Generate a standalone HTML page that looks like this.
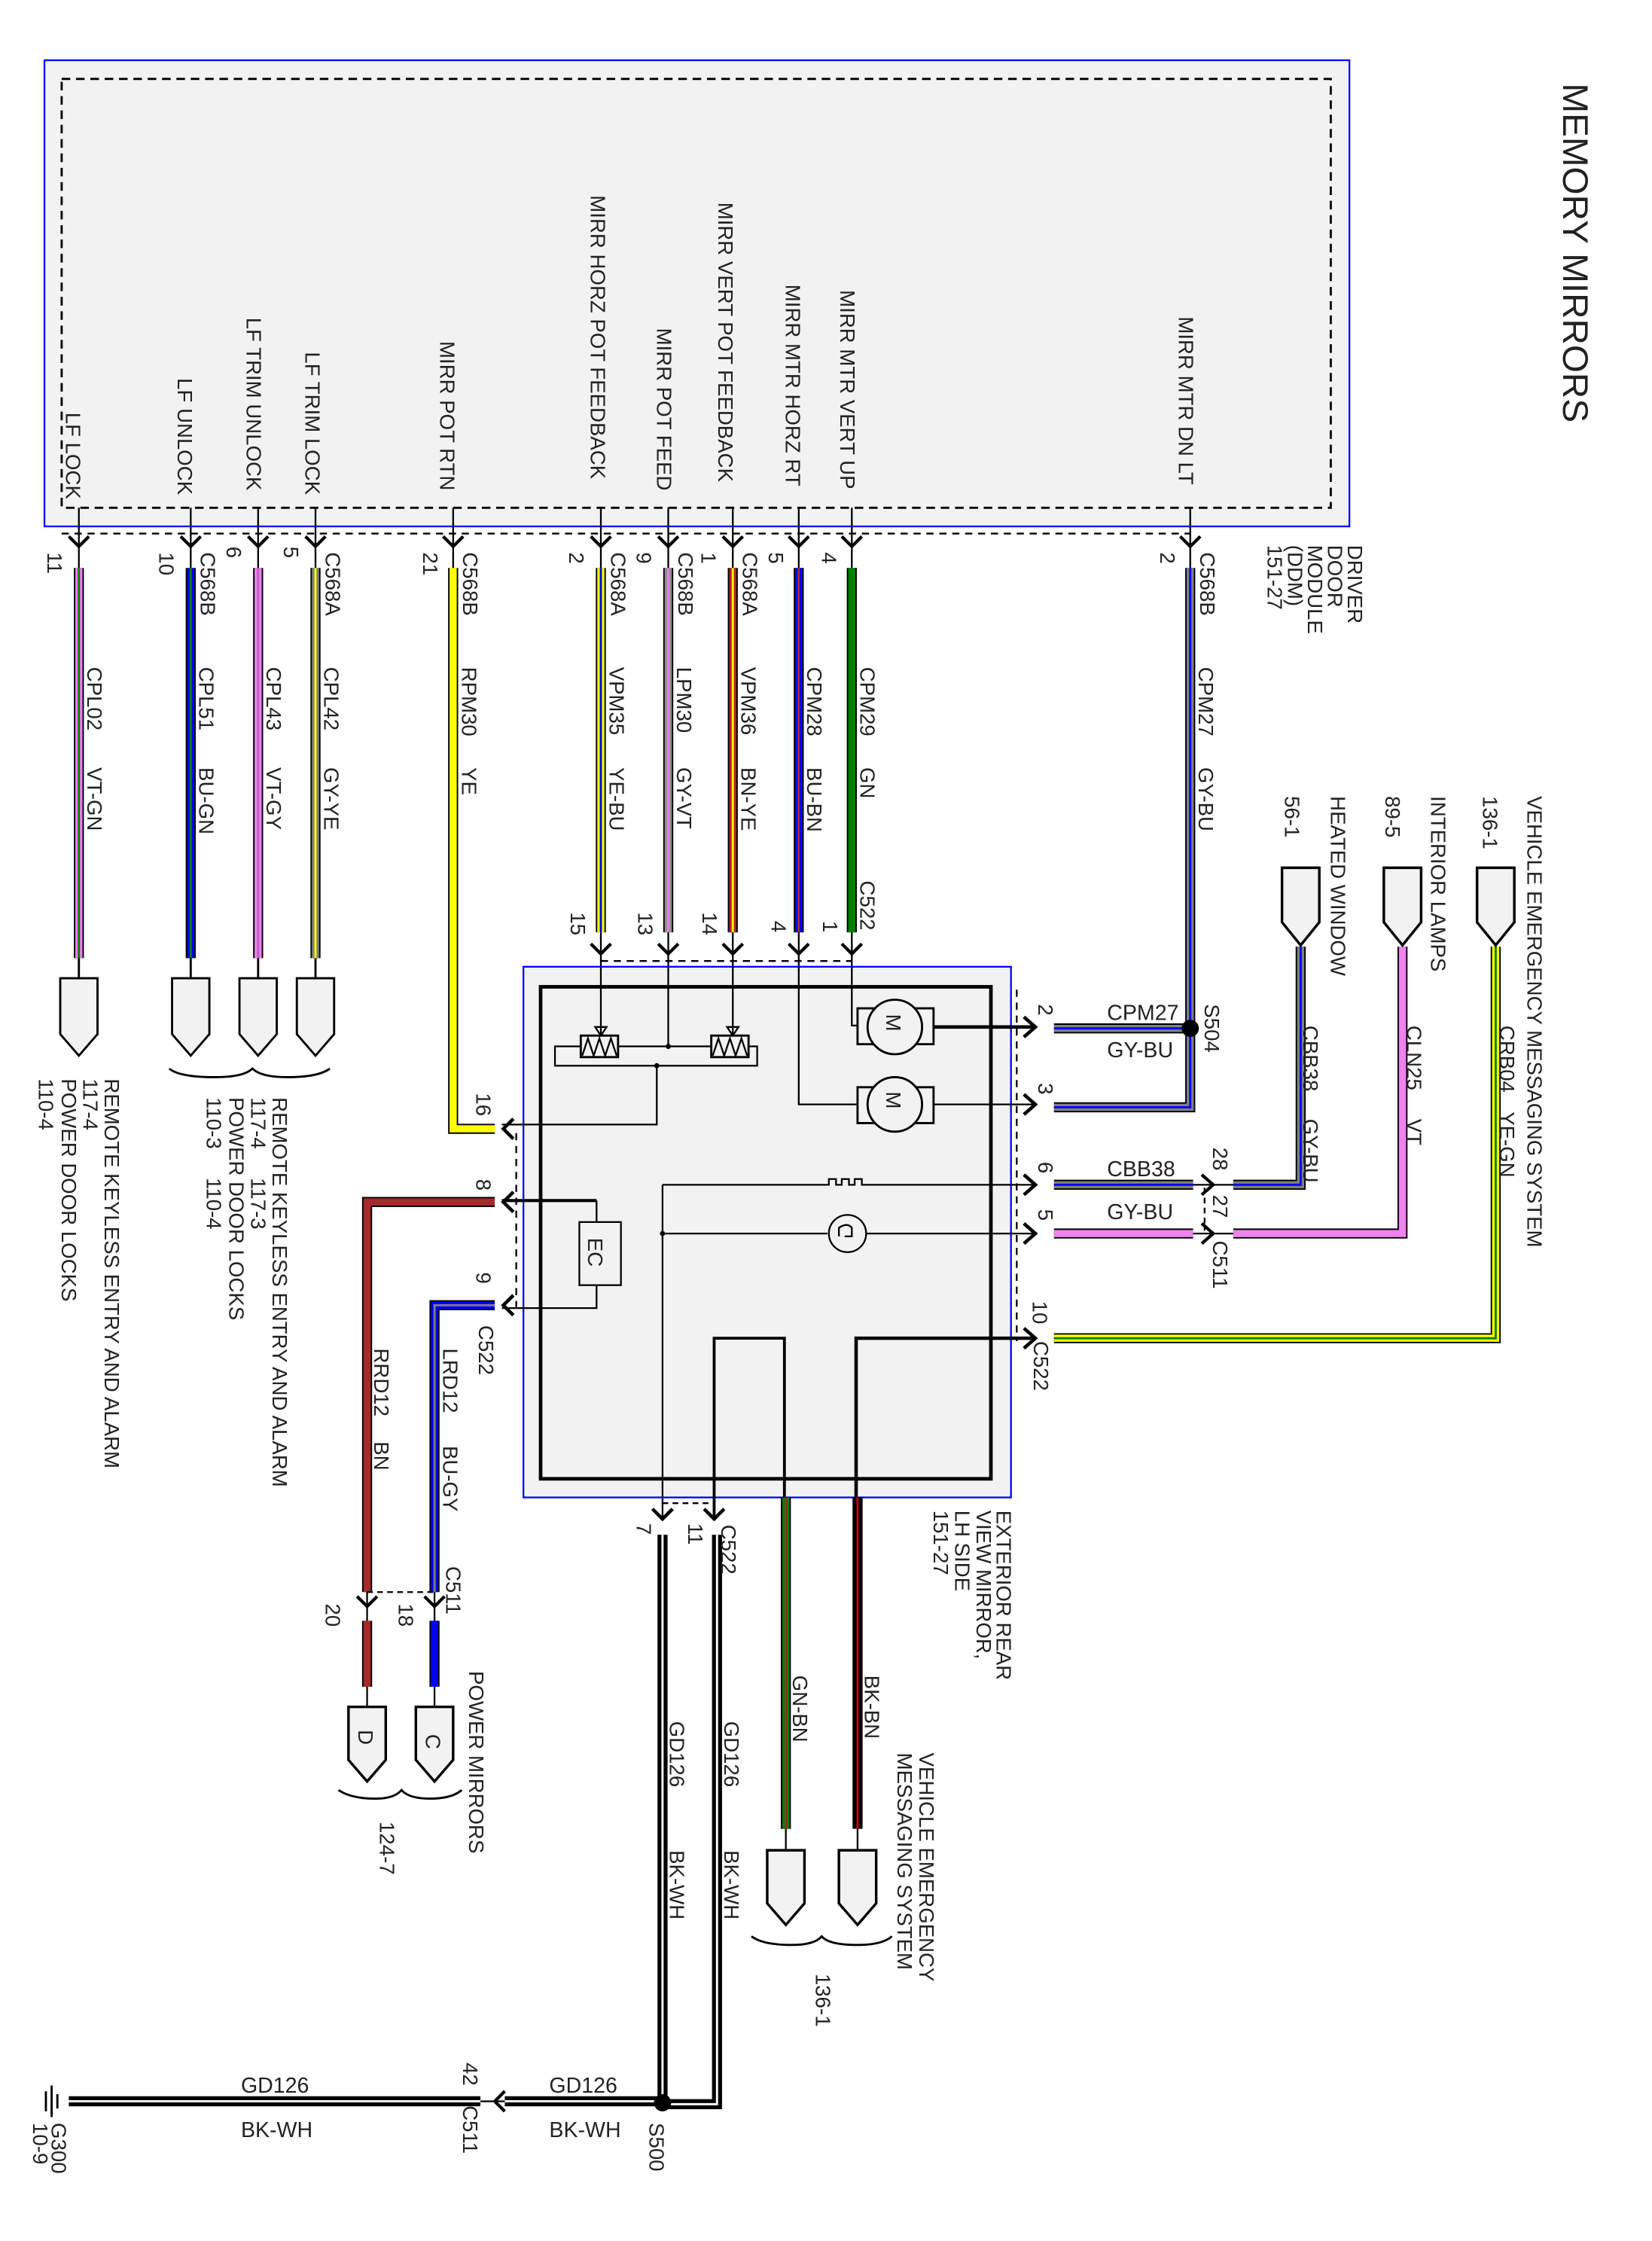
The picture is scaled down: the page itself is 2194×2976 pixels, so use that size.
<!DOCTYPE html>
<html><head><meta charset="utf-8"><style>
html,body{margin:0;padding:0;background:#fff}
svg{display:block}
text{font-family:"Liberation Sans",sans-serif;fill:#222;white-space:pre}
.s{font-size:14.5px}
.h{font-size:15px}
</style></head><body>
<svg width="2194" height="2976" viewBox="0 0 1152 1562.4" preserveAspectRatio="none" xmlns="http://www.w3.org/2000/svg">
<g fill="none" stroke-linejoin="miter">
<rect x="31" y="42" width="910" height="325" fill="#f2f2f2" stroke="#0000ff" stroke-width="1.2"/>
<rect x="43" y="55" width="885" height="299" stroke="#000" stroke-width="1.5" stroke-dasharray="6,4"/>
<line x1="43" y1="372" x2="830" y2="372" stroke="#000" stroke-width="1.2" stroke-dasharray="5,4"/>
</g>

<g stroke="#000" stroke-width="1.2" fill="none">
<line x1="55" y1="354" x2="55" y2="396"/><line x1="133" y1="354" x2="133" y2="396"/>
<line x1="180" y1="354" x2="180" y2="396"/><line x1="220" y1="354" x2="220" y2="396"/>
<line x1="316" y1="354" x2="316" y2="396"/><line x1="419" y1="354" x2="419" y2="396"/>
<line x1="466" y1="354" x2="466" y2="396"/><line x1="511" y1="354" x2="511" y2="396"/>
<line x1="557" y1="354" x2="557" y2="396"/><line x1="594" y1="354" x2="594" y2="396"/>
<line x1="830" y1="354" x2="830" y2="396"/>
</g>
<g stroke="#000" stroke-width="2.2" fill="none">
<path d="M48,374 L55,381 L62,374 M126,374 L133,381 L140,374 M173,374 L180,381 L187,374 M213,374 L220,381 L227,374 M309,374 L316,381 L323,374 M412,374 L419,381 L426,374 M459,374 L466,381 L473,374 M504,374 L511,381 L518,374 M550,374 L557,381 L564,374 M587,374 L594,381 L601,374 M823,374 L830,381 L837,374"/>
</g>

<g fill="none">
<g stroke-width="7" stroke="#000">
<line x1="55" y1="396" x2="55" y2="668"/><line x1="133" y1="396" x2="133" y2="668"/>
<line x1="180" y1="396" x2="180" y2="668"/><line x1="220" y1="396" x2="220" y2="668"/>
<polyline points="316,396 316,787 345,787"/>
<line x1="419" y1="396" x2="419" y2="650"/><line x1="466" y1="396" x2="466" y2="650"/>
<line x1="511" y1="396" x2="511" y2="650"/><line x1="557" y1="396" x2="557" y2="650"/>
<line x1="594" y1="396" x2="594" y2="650"/>
<polyline points="830,396 830,772 735,772"/>
<line x1="735" y1="717" x2="830" y2="717"/>
</g>
<g stroke-width="5">
<line x1="55" y1="396" x2="55" y2="668" stroke="#e880e8"/><line x1="133" y1="396" x2="133" y2="668" stroke="#0000ff"/>
<line x1="180" y1="396" x2="180" y2="668" stroke="#e880e8"/><line x1="220" y1="396" x2="220" y2="668" stroke="#808080"/>
<polyline points="316,396 316,787 345,787" stroke="#ffff00"/>
<line x1="419" y1="396" x2="419" y2="650" stroke="#ffff00"/><line x1="466" y1="396" x2="466" y2="650" stroke="#909090"/>
<line x1="511" y1="396" x2="511" y2="650" stroke="#b22222"/><line x1="557" y1="396" x2="557" y2="650" stroke="#0000ff"/>
<line x1="594" y1="396" x2="594" y2="650" stroke="#008000"/>
<polyline points="830,396 830,772 735,772" stroke="#808080"/>
<line x1="735" y1="717" x2="830" y2="717" stroke="#808080"/>
</g>
<g stroke-width="1.5">
<line x1="55" y1="396" x2="55" y2="668" stroke="#008000"/><line x1="133" y1="396" x2="133" y2="668" stroke="#008000"/>
<line x1="180" y1="396" x2="180" y2="668" stroke="#c060c0"/><line x1="220" y1="396" x2="220" y2="668" stroke="#ffff00"/>
<line x1="419" y1="396" x2="419" y2="650" stroke="#0000ff"/><line x1="466" y1="396" x2="466" y2="650" stroke="#e880e8"/>
<line x1="511" y1="396" x2="511" y2="650" stroke="#ffff00"/><line x1="557" y1="396" x2="557" y2="650" stroke="#a52a2a"/>
<polyline points="830,396 830,772 735,772" stroke="#0000ff"/>
<line x1="735" y1="717" x2="830" y2="717" stroke="#0000ff"/>
</g>
</g>

<g stroke="#000" stroke-width="1.5" fill="#f2f2f2">
<line x1="55" y1="668" x2="55" y2="682"/><line x1="133" y1="668" x2="133" y2="682"/><line x1="180" y1="668" x2="180" y2="682"/><line x1="220" y1="668" x2="220" y2="682"/>
<path d="M42,682 H68 V721 L55,736 L42,721 Z"/>
<path d="M120,682 H146 V721 L133,736 L120,721 Z"/>
<path d="M167,682 H193 V721 L180,736 L167,721 Z"/>
<path d="M207,682 H233 V721 L220,736 L207,721 Z"/>
</g>
<g stroke="#000" stroke-width="1.5" fill="none">
<path d="M118,745 Q125,751 150,751 Q170,751 176,745 Q182,751 200,751 Q222,751 230,745"/>
</g>

<line x1="419" y1="670" x2="594" y2="670" stroke="#000" stroke-width="1.2" stroke-dasharray="5,4"/>
<g stroke="#000" stroke-width="1.2"><line x1="419" y1="650" x2="419" y2="722"/><line x1="466" y1="650" x2="466" y2="729"/><line x1="511" y1="650" x2="511" y2="722"/><polyline fill="none" points="557,650 557,770 598,770"/><polyline fill="none" points="594,650 594,715 598,715"/></g>
<g stroke="#000" stroke-width="2.2" fill="none">
<path d="M412,658 L419,665 L426,658 M459,658 L466,665 L473,658 M504,658 L511,665 L518,658 M550,658 L557,665 L564,658 M587,658 L594,665 L601,658"/>
</g>

<rect x="365" y="674" width="340" height="370" fill="#f2f2f2" stroke="#0000ff" stroke-width="1.2"/>
<rect x="377" y="688" width="314" height="343" fill="none" stroke="#000" stroke-width="2.5"/>
<g stroke="#000" fill="none" stroke-width="1.2">
<line x1="419" y1="674" x2="419" y2="722"/><line x1="466" y1="674" x2="466" y2="729"/><line x1="511" y1="674" x2="511" y2="722"/>
<polyline points="557,674 557,770 598,770"/><polyline points="594,674 594,715 598,715"/>
<rect x="387" y="729.5" width="141" height="13.5"/>
<polyline points="458,743 458,784 350,784"/>
<polyline points="416,837 350,837" stroke-width="2.2"/>
<line x1="416" y1="837" x2="416" y2="852"/>
<rect x="404" y="852" width="29" height="44"/>
<polyline points="416,896 416,912 350,912"/>
<line x1="462" y1="826" x2="462" y2="1060"/>
<polyline points="462,826 578,826 578,822 583,822 583,826 587,826 587,822 592,822 592,826 596,826 596,822 601,822 601,826 605,826 721,826"/>
<line x1="462" y1="860" x2="577" y2="860"/><line x1="604" y1="860" x2="721" y2="860"/>
<circle cx="591" cy="860" r="13"/>
<path d="M585,862 V856 Q591,852 594,856 V862 H589"/>
<line x1="651" y1="770" x2="721" y2="770"/>
<polyline points="498,1060 498,933 547,933 547,1044" stroke-width="2"/>
<polyline points="597,1044 597,933 721,933" stroke-width="2.4"/>
<line x1="651" y1="716" x2="721" y2="716" stroke-width="2.4"/>
<line x1="709" y1="690" x2="709" y2="935" stroke-dasharray="5,4"/>
<line x1="360" y1="790" x2="360" y2="912" stroke-dasharray="5,4"/>
<line x1="462" y1="1048" x2="498" y2="1048" stroke-dasharray="4,3"/>
</g>
<g stroke="#000" stroke-width="1.5" fill="#f2f2f2">
<rect x="598" y="703" width="53" height="25"/><circle cx="624" cy="716" r="19"/>
<rect x="598" y="758" width="53" height="25"/><circle cx="624" cy="770" r="19"/>
</g>
<g stroke="#000" stroke-width="1.5" fill="#f2f2f2">
<rect x="405" y="722" width="26" height="15"/><rect x="496" y="722" width="26" height="15"/>
</g>
<g stroke="#000" stroke-width="1.2" fill="none">
<path d="M406,736 L410,724 L414,736 L418,724 L422,736 L426,724 L430,736"/>
<path d="M497,736 L501,724 L505,736 L509,724 L513,736 L517,724 L521,736"/>
<path d="M415,716 L419,722 L423,716 Z M507,716 L511,722 L515,716 Z"/>
</g>
<circle cx="466" cy="729.5" r="1.8"/><circle cx="458" cy="743" r="1.8"/><circle cx="462" cy="860" r="1.8"/>
<text class="s" transform="translate(618,707) rotate(90)">M</text>
<text class="s" transform="translate(618,761) rotate(90)">M</text>
<text class="s" transform="translate(410,863) rotate(90)">EC</text>

<g stroke="#000" stroke-width="2.4" fill="none">
<path d="M714,709 L722,716 L714,723 M714,763 L722,770 L714,777 M714,819 L722,826 L714,833 M714,853 L722,860 L714,867 M714,926 L722,933 L714,940"/>
<path d="M358,780 L351,787 L358,794 M358,831 L351,838 L358,845 M358,903 L351,910 L358,917"/>
<path d="M455,1052 L462,1059 L469,1052 M491,1052 L498,1059 L505,1052"/>
</g>

<g fill="none">
<g stroke="#000" stroke-width="7">
<line x1="735" y1="826" x2="832" y2="826"/><polyline points="860,826 907,826 907,660"/>
<line x1="735" y1="860" x2="832" y2="860"/><polyline points="860,860 978,860 978,660"/>
<polyline points="735,933 1043,933 1043,660"/>
<polyline points="256,1110 256,838 345,838"/><polyline points="303,1110 303,910 345,910"/>
<line x1="256" y1="1130" x2="256" y2="1176"/><line x1="303" y1="1130" x2="303" y2="1176"/>
<polyline points="462,1070 462,1465"/><polyline points="500,1070 500,1467 462,1467"/>
<line x1="462" y1="1465" x2="352" y2="1465"/><line x1="335" y1="1465" x2="48" y2="1465"/>
<line x1="548" y1="1044" x2="548" y2="1275"/><line x1="598" y1="1044" x2="598" y2="1275"/>
</g>
<g stroke-width="5">
<line x1="735" y1="826" x2="832" y2="826" stroke="#808080"/><polyline points="860,826 907,826 907,660" stroke="#808080"/>
<line x1="735" y1="860" x2="832" y2="860" stroke="#ee82ee"/><polyline points="860,860 978,860 978,660" stroke="#ee82ee"/>
<polyline points="735,933 1043,933 1043,660" stroke="#ffff00"/>
<polyline points="256,1110 256,838 345,838" stroke="#a52a2a"/><polyline points="303,1110 303,910 345,910" stroke="#0000ff"/>
<line x1="256" y1="1130" x2="256" y2="1176" stroke="#a52a2a"/><line x1="303" y1="1130" x2="303" y2="1176" stroke="#0000ff"/>
<line x1="548" y1="1044" x2="548" y2="1275" stroke="#008000"/>
</g>
<g stroke-width="1.5">
<line x1="735" y1="826" x2="832" y2="826" stroke="#0000ff"/><polyline points="860,826 907,826 907,660" stroke="#0000ff"/>
<polyline points="735,933 1043,933 1043,660" stroke="#008000"/>
<polyline points="303,1110 303,910 345,910" stroke="#808080"/>
<polyline points="462,1070 462,1465" stroke="#fff"/><polyline points="500,1070 500,1467 462,1467" stroke="#fff"/>
<line x1="462" y1="1465" x2="352" y2="1465" stroke="#fff"/><line x1="335" y1="1465" x2="48" y2="1465" stroke="#fff"/>
<line x1="548" y1="1044" x2="548" y2="1275" stroke="#a52a2a"/><line x1="598" y1="1044" x2="598" y2="1275" stroke="#d00000"/>
</g>
</g>
<circle cx="830" cy="717" r="6" fill="#000"/>
<circle cx="462" cy="1466" r="6" fill="#000"/>

<g stroke="#000" stroke-width="2.2" fill="none">
<path d="M838,819 L846,826 L838,833 M838,853 L846,860 L838,867"/>
<path d="M249,1113 L256,1120 L263,1113 M296,1113 L303,1120 L310,1113"/>
<path d="M352,1458 L345,1465 L352,1472"/>
</g>
<g stroke="#000" stroke-width="1.2" fill="none">
<line x1="832" y1="826" x2="860" y2="826"/><line x1="832" y1="860" x2="860" y2="860"/>
<line x1="840" y1="828" x2="840" y2="858" stroke-dasharray="4,3"/>
<line x1="256" y1="1110" x2="256" y2="1130"/><line x1="303" y1="1110" x2="303" y2="1130"/>
<line x1="256" y1="1110" x2="303" y2="1110" stroke-dasharray="4,3"/>
<line x1="352" y1="1465" x2="335" y2="1465"/>
<line x1="907" y1="660" x2="907" y2="642"/><line x1="978" y1="660" x2="978" y2="642"/><line x1="1043" y1="660" x2="1043" y2="642"/>
<line x1="256" y1="1176" x2="256" y2="1190"/><line x1="303" y1="1176" x2="303" y2="1190"/>
<line x1="548" y1="1275" x2="548" y2="1290"/><line x1="598" y1="1275" x2="598" y2="1290"/>
<line x1="32" y1="1458" x2="32" y2="1472" stroke-width="1.5"/><line x1="36" y1="1454" x2="36" y2="1476" stroke-width="1.5"/><line x1="40" y1="1460" x2="40" y2="1470" stroke-width="1.5"/>
</g>
<g stroke="#000" stroke-width="1.8" fill="#f2f2f2">
<path d="M894,605 H920 V643 L907,659 L894,643 Z"/>
<path d="M965,605 H991 V643 L978,659 L965,643 Z"/>
<path d="M1030,605 H1056 V643 L1043,659 L1030,643 Z"/>
<path d="M243,1190 H269 V1227 L256,1242 L243,1227 Z"/>
<path d="M290,1190 H316 V1227 L303,1242 L290,1227 Z"/>
<path d="M535,1290 H561 V1327 L548,1342 L535,1327 Z"/>
<path d="M585,1290 H611 V1327 L598,1342 L585,1327 Z"/>
</g>
<g stroke="#000" stroke-width="1.5" fill="none">
<path d="M236,1248 Q245,1254 262,1254 Q275,1254 280,1248 Q285,1254 300,1254 Q315,1254 322,1248"/>
<path d="M524,1350 Q532,1356 552,1356 Q568,1356 573,1350 Q578,1356 598,1356 Q615,1356 622,1350"/>
</g>
<text class="s" transform="translate(250,1206) rotate(90)">D</text>
<text class="s" transform="translate(297,1209) rotate(90)">C</text>

<text style="font-size:25px" transform="translate(1090,58) rotate(90)">MEMORY MIRRORS</text>
<g class="s">
<text text-anchor="end" transform="translate(46,348) rotate(90)">LF LOCK</text>
<text text-anchor="end" transform="translate(124,345) rotate(90)">LF UNLOCK</text>
<text text-anchor="end" transform="translate(172,342) rotate(90)">LF TRIM UNLOCK</text>
<text text-anchor="end" transform="translate(213,345) rotate(90)">LF TRIM LOCK</text>
<text text-anchor="end" transform="translate(307,342) rotate(90)">MIRR POT RTN</text>
<text text-anchor="end" transform="translate(412,334) rotate(90)">MIRR HORZ POT FEEDBACK</text>
<text text-anchor="end" transform="translate(458,342) rotate(90)">MIRR POT FEED</text>
<text text-anchor="end" transform="translate(501,336) rotate(90)">MIRR VERT POT FEEDBACK</text>
<text text-anchor="end" transform="translate(548,339) rotate(90)">MIRR MTR HORZ RT</text>
<text text-anchor="end" transform="translate(586,341) rotate(90)">MIRR MTR VERT UP</text>
<text text-anchor="end" transform="translate(822,338) rotate(90)">MIRR MTR DN LT</text>

<text transform="translate(940,380) rotate(90)">DRIVER</text>
<text transform="translate(926,380) rotate(90)">DOOR</text>
<text transform="translate(912,380) rotate(90)">MODULE</text>
<text transform="translate(898,380) rotate(90)">(DDM)</text>
<text transform="translate(884,380) rotate(90)">151-27</text>

<text transform="translate(33,385) rotate(90)">11</text>
<text transform="translate(111,385) rotate(90)">10</text>
<text transform="translate(140,385) rotate(90)">C568B</text>
<text transform="translate(158,381) rotate(90)">6</text>
<text transform="translate(198,381) rotate(90)">5</text>
<text transform="translate(227,385) rotate(90)">C568A</text>
<text transform="translate(295,385) rotate(90)">21</text>
<text transform="translate(323,385) rotate(90)">C568B</text>
<text transform="translate(397,385) rotate(90)">2</text>
<text transform="translate(426,385) rotate(90)">C568A</text>
<text transform="translate(444,385) rotate(90)">9</text>
<text transform="translate(473,385) rotate(90)">C568B</text>
<text transform="translate(489,385) rotate(90)">1</text>
<text transform="translate(518,385) rotate(90)">C568A</text>
<text transform="translate(536,385) rotate(90)">5</text>
<text transform="translate(573,385) rotate(90)">4</text>
<text transform="translate(809,385) rotate(90)">2</text>
<text transform="translate(837,385) rotate(90)">C568B</text>

<text transform="translate(61,465) rotate(90)">CPL02</text><text transform="translate(61,535) rotate(90)">VT-GN</text>
<text transform="translate(139,465) rotate(90)">CPL51</text><text transform="translate(139,535) rotate(90)">BU-GN</text>
<text transform="translate(186,465) rotate(90)">CPL43</text><text transform="translate(186,535) rotate(90)">VT-GY</text>
<text transform="translate(226,465) rotate(90)">CPL42</text><text transform="translate(226,535) rotate(90)">GY-YE</text>
<text transform="translate(322,465) rotate(90)">RPM30</text><text transform="translate(322,535) rotate(90)">YE</text>
<text transform="translate(425,465) rotate(90)">VPM35</text><text transform="translate(425,535) rotate(90)">YE-BU</text>
<text transform="translate(472,465) rotate(90)">LPM30</text><text transform="translate(472,535) rotate(90)">GY-VT</text>
<text transform="translate(517,465) rotate(90)">VPM36</text><text transform="translate(517,535) rotate(90)">BN-YE</text>
<text transform="translate(563,465) rotate(90)">CPM28</text><text transform="translate(563,535) rotate(90)">BU-BN</text>
<text transform="translate(600,465) rotate(90)">CPM29</text><text transform="translate(600,535) rotate(90)">GN</text>
<text transform="translate(600,614) rotate(90)">C522</text>
<text transform="translate(836,465) rotate(90)">CPM27</text><text transform="translate(836,535) rotate(90)">GY-BU</text>

<text transform="translate(398,636) rotate(90)">15</text>
<text transform="translate(445,636) rotate(90)">13</text>
<text transform="translate(490,636) rotate(90)">14</text>
<text transform="translate(538,642) rotate(90)">4</text>
<text transform="translate(574,642) rotate(90)">1</text>

<text transform="translate(73,752) rotate(90)">REMOTE KEYLESS ENTRY AND ALARM</text>
<text transform="translate(58,752) rotate(90)">117-4</text>
<text transform="translate(43,752) rotate(90)">POWER DOOR LOCKS</text>
<text transform="translate(27,752) rotate(90)">110-4</text>
<text transform="translate(190,765) rotate(90)">REMOTE KEYLESS ENTRY AND ALARM</text>
<text transform="translate(175,765) rotate(90)">117-4     117-3</text>
<text transform="translate(160,765) rotate(90)">POWER DOOR LOCKS</text>
<text transform="translate(144,765) rotate(90)">110-3     110-4</text>

<text transform="translate(332,762) rotate(90)">16</text>
<text transform="translate(332,822) rotate(90)">8</text>
<text transform="translate(332,887) rotate(90)">9</text>
<text transform="translate(334,924) rotate(90)">C522</text>
<text transform="translate(261,940) rotate(90)">RRD12</text><text transform="translate(261,1005) rotate(90)">BN</text>
<text transform="translate(309,940) rotate(90)">LRD12</text><text transform="translate(309,1008) rotate(90)">BU-GY</text>
<text transform="translate(227,1118) rotate(90)">20</text>
<text transform="translate(278,1118) rotate(90)">18</text>
<text transform="translate(311,1092) rotate(90)">C511</text>
<text transform="translate(265,1270) rotate(90)">124-7</text>
<text transform="translate(327,1165) rotate(90)">POWER MIRRORS</text>

<text transform="translate(724,700) rotate(90)">2</text>
<text transform="translate(724,755) rotate(90)">3</text>
<text transform="translate(724,810) rotate(90)">6</text>
<text transform="translate(724,843) rotate(90)">5</text>
<text transform="translate(720,907) rotate(90)">10</text>
<text transform="translate(721,935) rotate(90)">C522</text>
<text transform="translate(840,700) rotate(90)">S504</text>
<text transform="translate(846,800) rotate(90)">28</text>
<text transform="translate(846,833) rotate(90)">27</text>
<text transform="translate(846,865) rotate(90)">C511</text>
<text transform="translate(909,715) rotate(90)">CBB38</text><text transform="translate(909,780) rotate(90)">GY-BU</text>
<text transform="translate(981,715) rotate(90)">CLN25</text><text transform="translate(981,780) rotate(90)">VT</text>
<text transform="translate(1046,715) rotate(90)">CRB04</text><text transform="translate(1046,775) rotate(90)">YE-GN</text>
<text transform="translate(896,555) rotate(90)">56-1</text>
<text transform="translate(928,555) rotate(90)">HEATED WINDOW</text>
<text transform="translate(966,555) rotate(90)">89-5</text>
<text transform="translate(998,555) rotate(90)">INTERIOR LAMPS</text>
<text transform="translate(1034,555) rotate(90)">136-1</text>
<text transform="translate(1065,555) rotate(90)">VEHICLE EMERGENCY MESSAGING SYSTEM</text>

<text transform="translate(444,1062) rotate(90)">7</text>
<text transform="translate(480,1062) rotate(90)">11</text>
<text transform="translate(503,1063) rotate(90)">C522</text>
<text transform="translate(467,1200) rotate(90)">GD126</text><text transform="translate(467,1290) rotate(90)">BK-WH</text>
<text transform="translate(505,1200) rotate(90)">GD126</text><text transform="translate(505,1290) rotate(90)">BK-WH</text>
<text transform="translate(553,1168) rotate(90)">GN-BN</text>
<text transform="translate(603,1168) rotate(90)">BK-BN</text>
<text transform="translate(569,1376) rotate(90)">136-1</text>
<text transform="translate(641,1222) rotate(90)">VEHICLE EMERGENCY</text>
<text transform="translate(626,1222) rotate(90)">MESSAGING SYSTEM</text>
<text transform="translate(695,1053) rotate(90)">EXTERIOR REAR</text>
<text transform="translate(681,1053) rotate(90)">VIEW MIRROR,</text>
<text transform="translate(666,1053) rotate(90)">LH SIDE</text>
<text transform="translate(651,1053) rotate(90)">151-27</text>

<text transform="translate(323,1438) rotate(90)">42</text>
<text transform="translate(323,1468) rotate(90)">C511</text>
<text transform="translate(453,1480) rotate(90)">S500</text>
<text transform="translate(36,1480) rotate(90)">G300</text>
<text transform="translate(23,1480) rotate(90)">10-9</text>
</g>
<g class="h">
<text x="772" y="711">CPM27</text>
<text x="772" y="737">GY-BU</text>
<text x="772" y="820">CBB38</text>
<text x="772" y="850">GY-BU</text>
<text x="383" y="1459">GD126</text>
<text x="383" y="1490">BK-WH</text>
<text x="168" y="1459">GD126</text>
<text x="168" y="1490">BK-WH</text>
</g>
</svg>
</body></html>
